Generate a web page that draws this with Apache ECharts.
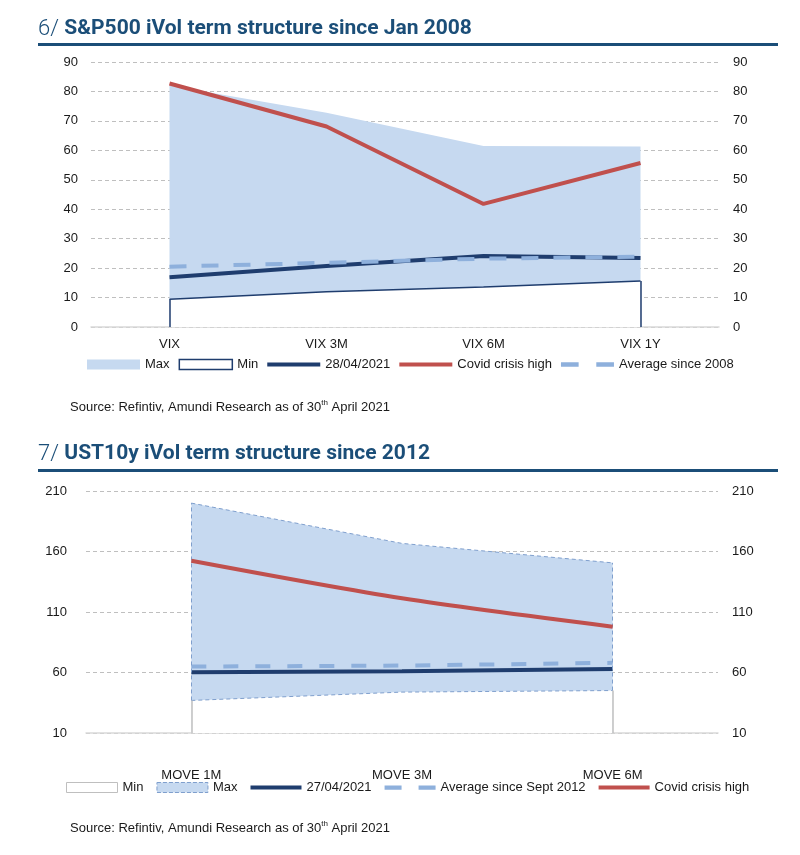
<!DOCTYPE html>
<html><head><meta charset="utf-8">
<script src="https://cdn.jsdelivr.net/npm/echarts@6/dist/echarts.min.js"></script>
<style>
html,body{margin:0;padding:0;background:#fff;width:800px;height:855px;overflow:hidden}
#c1{position:absolute;left:0;top:0;width:800px;height:430px}
#c2{position:absolute;left:0;top:430px;width:800px;height:425px}
</style>
</head><body>
<div id="c1"></div><div id="c2"></div>
<script>
// ---- Chart 6: S&P500 iVol term structure ----
const vixCategories = ['VIX', 'VIX 3M', 'VIX 6M', 'VIX 1Y'];
const vixMax = [82.0, 72.8, 61.5, 61.3];
const vixMin = [9.4, 12.0, 13.6, 15.6];
const vix20210428 = [16.9, 20.7, 24.1, 23.4];
const vixCovidHigh = [82.7, 68.1, 41.8, 55.7];
const vixAverage = [20.5, 21.8, 23.2, 23.9];
const vixTicks = [0, 10, 20, 30, 40, 50, 60, 70, 80, 90];

// ---- Chart 7: UST10y iVol term structure ----
const moveCategories = ['MOVE 1M', 'MOVE 3M', 'MOVE 6M'];
const moveMin = [36.9, 43.8, 45.1];
const moveMax = [200.0, 166.7, 150.6];
const move20210427 = [60.3, 61.0, 62.8];
const moveAverage = [64.9, 65.7, 68.0];
const moveCovidHigh = [152.3, 121.3, 97.9];
const moveTicks = [10, 60, 110, 160, 210];

const FONT = '"Liberation Sans Narrow", "Liberation Sans", Arial, sans-serif';
const TFONT = 'Roboto, "Open Sans", sans-serif';
const TITLE_C = '#1b4e78';
const LB = '#c6d9f0';
const NAVY = '#1f3d6e';
const RED = '#c0504d';
const AVG = '#8eb0dc';
const MAXB = '#7f9fcd';
const GRID = '#bfbfbf';
const TXT = '#1a1a1a';

const LINE_ICON = 'path://M0,0H52V4H0Z';
const DASH_ICON = 'path://M0,0H16V4H0Z M32,0H48V4H32Z';

function titleBlock(num, text, top) {
  return {
    left: 38, top: top, padding: 0,
    text: '{a|' + num + ' }{b|' + text + '}',
    textStyle: { rich: {
      a: { fontFamily: TFONT, fontWeight: 300, fontSize: 22, color: TITLE_C },
      b: { fontFamily: TFONT, fontWeight: 'bold', fontSize: 21, color: TITLE_C }
    } }
  };
}
function sourceBlock(top) {
  return {
    left: 70, top: top, padding: 0,
    text: '{n|Source: Refintiv, Amundi Research as of 30}{s|th}{n| April 2021}',
    textStyle: { fontWeight: 'normal', rich: {
      n: { fontFamily: FONT, fontWeight: 'normal', fontSize: 13, color: TXT, lineHeight: 16 },
      s: { fontFamily: FONT, fontWeight: 'normal', fontSize: 8, color: TXT, verticalAlign: 'top' }
    } }
  };
}
function yAxes(ticks, lm, rm) {
  const common = {
    type: 'value', min: ticks[0], max: ticks[ticks.length - 1], interval: ticks[1] - ticks[0],
    axisLine: { show: false }, axisTick: { show: false }
  };
  return [
    Object.assign({}, common, { position: 'left',
      axisLabel: { margin: lm, fontFamily: FONT, fontSize: 13, color: TXT },
      splitLine: { show: true, lineStyle: { color: GRID, type: [4, 3], width: 1 } } }),
    Object.assign({}, common, { position: 'right',
      axisLabel: { margin: rm, fontFamily: FONT, fontSize: 13, color: TXT },
      splitLine: { show: false } })
  ];
}
function edge(cat, a, b) { return [{ coord: [cat, a] }, { coord: [cat, b] }]; }

// ---------------- Chart 1 ----------------
const c1 = echarts.init(document.getElementById('c1'), null, { renderer: 'canvas' });
const lastV = vixCategories.length - 1;
c1.setOption({
  animation: false,
  title: [ titleBlock('6/', 'S&P500 iVol term structure since Jan 2008', 18), sourceBlock(399) ],
  graphic: [{ type: 'rect', shape: { x: 38, y: 43, width: 740, height: 3 }, style: { fill: TITLE_C } }],
  grid: { left: 91, right: 81, top: 62, bottom: 103 },
  xAxis: { type: 'category', data: vixCategories, boundaryGap: true,
    axisLine: { lineStyle: { color: '#d9d9d9', width: 1.5 } }, axisTick: { show: false },
    axisLabel: { margin: 11, fontFamily: FONT, fontSize: 13, color: TXT } },
  yAxis: yAxes(vixTicks, 13, 14),
  legend: {
    left: 87, top: 358, padding: 0, itemWidth: 53, itemHeight: 10, itemGap: 9, selectedMode: false,
    textStyle: { fontFamily: FONT, fontSize: 13, color: TXT },
    data: [
      { name: 'Max', icon: 'rect', itemStyle: { color: LB, borderWidth: 0 } },
      { name: 'Min', icon: 'rect', itemStyle: { color: '#fff', borderColor: NAVY, borderWidth: 1.5 } },
      { name: '28/04/2021', icon: LINE_ICON, itemStyle: { color: NAVY, borderWidth: 0 } },
      { name: 'Covid crisis high', icon: LINE_ICON, itemStyle: { color: RED, borderWidth: 0 } },
      { name: 'Average since 2008', icon: DASH_ICON, itemStyle: { color: AVG, borderWidth: 0 } }
    ]
  },
  series: [
    { name: 'Max', type: 'line', data: vixMax, symbol: 'none', silent: true, z: 1,
      lineStyle: { width: 0 }, itemStyle: { color: LB }, areaStyle: { color: LB, opacity: 1 } },
    { name: 'Min', type: 'line', data: vixMin, symbol: 'none', silent: true, z: 2,
      lineStyle: { color: NAVY, width: 1.5 }, itemStyle: { color: NAVY }, areaStyle: { color: '#fff', opacity: 1 },
      markLine: { silent: true, symbol: 'none', label: { show: false },
        lineStyle: { color: NAVY, width: 1.5, type: 'solid' },
        data: [ edge(vixCategories[0], vixTicks[0], vixMin[0]), edge(vixCategories[lastV], vixTicks[0], vixMin[lastV]) ] } },
    { name: '28/04/2021', type: 'line', data: vix20210428, symbol: 'none', z: 3,
      lineStyle: { color: NAVY, width: 4 }, itemStyle: { color: NAVY } },
    { name: 'Average since 2008', type: 'line', data: vixAverage, symbol: 'none', z: 4,
      lineStyle: { color: AVG, width: 4, type: [17, 15] }, itemStyle: { color: AVG } },
    { name: 'Covid crisis high', type: 'line', data: vixCovidHigh, symbol: 'none', z: 5,
      lineStyle: { color: RED, width: 4 }, itemStyle: { color: RED } }
  ]
});

// ---------------- Chart 2 ----------------
const c2 = echarts.init(document.getElementById('c2'), null, { renderer: 'canvas' });
const lastM = moveCategories.length - 1;
c2.setOption({
  animation: false,
  title: [ titleBlock('7/', 'UST10y iVol term structure since 2012', 13), sourceBlock(390) ],
  graphic: [{ type: 'rect', shape: { x: 38, y: 39, width: 740, height: 3 }, style: { fill: TITLE_C } }],
  grid: { left: 86, right: 82, top: 61, bottom: 122 },
  xAxis: { type: 'category', data: moveCategories, boundaryGap: true,
    axisLine: { lineStyle: { color: '#d9d9d9', width: 1.5 } }, axisTick: { show: false },
    axisLabel: { margin: 36, fontFamily: FONT, fontSize: 13, color: TXT } },
  yAxis: yAxes(moveTicks, 19, 14),
  legend: {
    left: 66, top: 351, padding: 0, itemWidth: 51, itemHeight: 10, itemGap: 13, selectedMode: false,
    textStyle: { fontFamily: FONT, fontSize: 13, color: TXT },
    data: [
      { name: 'Min', icon: 'rect', itemStyle: { color: '#fff', borderColor: GRID, borderWidth: 1 } },
      { name: 'Max', icon: 'rect', itemStyle: { color: LB, borderColor: MAXB, borderWidth: 1, borderType: 'dashed' } },
      { name: '27/04/2021', icon: LINE_ICON, itemStyle: { color: NAVY, borderWidth: 0 } },
      { name: 'Average since Sept 2012', icon: DASH_ICON, itemStyle: { color: AVG, borderWidth: 0 } },
      { name: 'Covid crisis high', icon: LINE_ICON, itemStyle: { color: RED, borderWidth: 0 } }
    ]
  },
  series: [
    { name: 'Max', type: 'line', data: moveMax, symbol: 'none', silent: true, z: 1,
      lineStyle: { color: MAXB, width: 1, type: [4, 3] }, itemStyle: { color: LB }, areaStyle: { color: LB, opacity: 1 },
      markLine: { silent: true, symbol: 'none', label: { show: false },
        lineStyle: { color: MAXB, width: 1, type: [4, 3] },
        data: [ edge(moveCategories[0], moveMin[0], moveMax[0]), edge(moveCategories[lastM], moveMin[lastM], moveMax[lastM]) ] } },
    { name: 'Min', type: 'line', data: moveMin, symbol: 'none', silent: true, z: 2,
      lineStyle: { color: MAXB, width: 1, type: [4, 3] }, itemStyle: { color: '#fff' }, areaStyle: { color: '#fff', opacity: 1 },
      markLine: { silent: true, symbol: 'none', label: { show: false },
        lineStyle: { color: GRID, width: 1.5, type: 'solid' },
        data: [ edge(moveCategories[0], moveTicks[0], moveMin[0]), edge(moveCategories[lastM], moveTicks[0], moveMin[lastM]) ] } },
    { name: '27/04/2021', type: 'line', data: move20210427, symbol: 'none', z: 3,
      lineStyle: { color: NAVY, width: 4 }, itemStyle: { color: NAVY } },
    { name: 'Average since Sept 2012', type: 'line', data: moveAverage, symbol: 'none', z: 4,
      lineStyle: { color: AVG, width: 4, type: [15, 17] }, itemStyle: { color: AVG } },
    { name: 'Covid crisis high', type: 'line', data: moveCovidHigh, symbol: 'none', smooth: 0.3, z: 5,
      lineStyle: { color: RED, width: 4 }, itemStyle: { color: RED } }
  ]
});
</script>
</body></html>
